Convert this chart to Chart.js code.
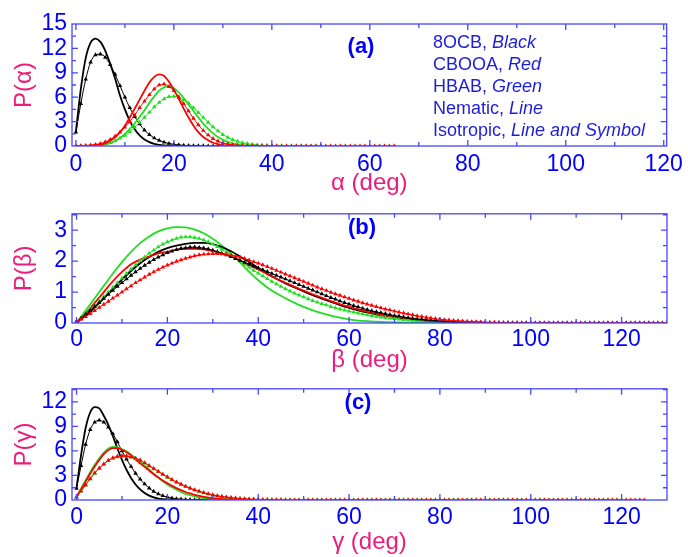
<!DOCTYPE html>
<html><head><meta charset="utf-8">
<script src="https://cdn.jsdelivr.net/npm/chart.js@4/dist/chart.umd.min.js"></script>
<style>
html,body{margin:0;padding:0;background:#fff;}
body{width:688px;height:557px;position:relative;overflow:hidden;}
.pane{position:absolute;left:0;width:688px;}
canvas{display:block;}
</style></head><body>
<div class="pane" style="top:0;height:195px"><canvas id="ca" width="688" height="195"></canvas></div>
<div class="pane" style="top:195px;height:177px"><canvas id="cb" width="688" height="177"></canvas></div>
<div class="pane" style="top:370px;height:187px"><canvas id="cc" width="688" height="187"></canvas></div>
<script>
// ---------- tick labels ----------
const xTicksA = [0, 20, 40, 60, 80, 100, 120];
const xTicksBC = [0, 20, 40, 60, 80, 100, 120];
const yTicksA = [0, 3, 6, 9, 12, 15];
const yTicksB = [0, 1, 2, 3];
const yTicksC = [0, 3, 6, 9, 12];

// ---------- text ----------
const panelLabels = ['(a)', '(b)', '(c)'];
const xTitles = ['\u03b1 (deg)', '\u03b2 (deg)', '\u03b3 (deg)'];
const yTitles = ['P(\u03b1)', 'P(\u03b2)', 'P(\u03b3)'];
const legendLines = [
  ['8OCB, ', 'Black'],
  ['CBOOA, ', 'Red'],
  ['HBAB, ', 'Green'],
  ['Nematic, ', 'Line'],
  ['Isotropic, ', 'Line and Symbol']
];

// ---------- panel (a): P(alpha), 1 deg sampling ----------
const aBlackLine = [1.8,7.0,10.8,12.7,13.2,12.8,11.7,10.1,8.3,6.2,4.5,3.1,2.05,1.3,0.8,0.48,0.27,0.14,0.07,0.03,0.01,0,0,0,0,0];
const aBlackSym = [1.7,5.2,8.2,10.3,11.2,11.3,10.9,10.0,8.8,7.4,6.0,4.7,3.6,2.7,1.95,1.4,0.98,0.68,0.46,0.31,0.2,0.13,0.08,0.05,0.03,0.02,0.01,0,0,0,0,0,0,0,0,0,0,0,0,0,0];
const aRedLine = [0,0,0.01,0.03,0.08,0.18,0.35,0.65,1.1,1.7,2.5,3.5,4.6,5.7,6.8,7.8,8.5,8.8,8.6,7.9,6.9,5.8,4.6,3.5,2.5,1.7,1.1,0.7,0.4,0.22,0.12,0.06,0.03,0.01,0,0,0,0,0,0,0];
const aRedSym = [0.02,0.03,0.06,0.1,0.18,0.3,0.5,0.8,1.2,1.7,2.3,3.0,3.8,4.7,5.5,6.3,7.0,7.5,7.6,7.3,6.8,6.0,5.2,4.3,3.4,2.6,1.9,1.35,0.9,0.6,0.38,0.24,0.14,0.08,0.05,0.03,0.02,0.01,0,0,0,0,0,0,0,0,0,0,0,0,0,0,0,0,0,0,0,0,0,0,0,0,0,0,0,0];
const aGreenLine = [0,0,0,0.01,0.03,0.08,0.18,0.35,0.62,1.0,1.5,2.1,2.8,3.6,4.4,5.3,6.1,6.8,7.2,7.35,7.1,6.6,5.9,5.1,4.3,3.5,2.75,2.1,1.55,1.1,0.75,0.5,0.32,0.2,0.12,0.07,0.04,0.02,0.01,0,0,0,0,0,0,0];
const aGreenSym = [0,0.01,0.02,0.05,0.1,0.17,0.27,0.42,0.65,0.95,1.3,1.75,2.3,2.9,3.5,4.15,4.8,5.35,5.8,6.05,6.1,6.0,5.7,5.25,4.7,4.1,3.5,2.9,2.35,1.85,1.4,1.05,0.78,0.56,0.4,0.28,0.19,0.12,0.08,0.05,0.03,0.02,0.01,0,0,0,0,0,0,0,0];

// ---------- panel (b): P(beta); lines 2 deg sampling, symbols 1 deg ----------
const bBlackLine = [0,0.25,0.5,0.8,1.1,1.4,1.68,1.93,2.13,2.3,2.42,2.5,2.56,2.59,2.59,2.55,2.45,2.32,2.15,1.97,1.78,1.6,1.43,1.28,1.15,1.02,0.9,0.79,0.68,0.58,0.49,0.41,0.34,0.28,0.23,0.19,0.15,0.12,0.09,0.06,0.04,0.03,0.02,0.015,0.01,0.005,0];
const bRedLine = [0,0.3,0.65,1.0,1.35,1.65,1.9,2.05,2.15,2.25,2.3,2.37,2.4,2.4,2.38,2.33,2.25,2.15,2.02,1.88,1.73,1.58,1.43,1.3,1.17,1.05,0.93,0.82,0.71,0.61,0.52,0.44,0.37,0.3,0.25,0.2,0.16,0.12,0.09,0.07,0.05,0.035,0.02,0.015,0.01,0.005,0];
const bGreenLine = [0,0.4,0.8,1.2,1.6,1.97,2.3,2.58,2.8,2.96,3.06,3.1,3.09,3.02,2.9,2.72,2.5,2.24,1.96,1.65,1.38,1.15,0.96,0.8,0.65,0.52,0.41,0.32,0.24,0.17,0.12,0.08,0.06,0.04,0.03,0.02,0.015,0.01,0.005,0];
const bBlackSym = [0.05,0.15,0.27,0.4,0.53,0.66,0.79,0.92,1.05,1.18,
  1.3,1.42,1.54,1.65,1.76,1.86,1.96,2.05,2.13,2.2,
  2.27,2.32,2.37,2.41,2.43,2.45,2.45,2.44,2.42,2.39,
  2.35,2.3,2.25,2.2,2.14,2.08,2.02,1.96,1.9,1.84,
  1.78,1.72,1.66,1.6,1.54,1.48,1.42,1.36,1.3,1.24,
  1.18,1.12,1.06,1.0,0.94,0.88,0.82,0.77,0.71,0.66,
  0.61,0.56,0.52,0.47,0.43,0.39,0.36,0.33,0.3,0.27,
  0.24,0.22,0.19,0.17,0.15,0.13,0.12,0.1,0.09,0.08,
  0.07,0.06,0.05,0.04,0.035,0.03,0.025,0.02,0.015,0.01,
  0.01,0,0,0,0,0,0,0,0,0,
  0,0,0,0,0,0,0,0,0,0,
  0,0,0,0,0,0,0,0,0,0,
  0,0,0,0,0,0,0,0,0,0,0];
const bRedSym = [0.05,0.12,0.2,0.3,0.4,0.5,0.6,0.7,0.8,0.9,
  1.0,1.1,1.2,1.3,1.39,1.48,1.57,1.65,1.73,1.8,
  1.87,1.93,1.99,2.04,2.09,2.13,2.17,2.2,2.22,2.23,
  2.24,2.24,2.23,2.21,2.19,2.16,2.12,2.08,2.03,1.98,
  1.93,1.88,1.82,1.76,1.7,1.64,1.58,1.52,1.46,1.4,
  1.34,1.28,1.22,1.16,1.1,1.05,0.99,0.94,0.89,0.84,
  0.79,0.74,0.7,0.65,0.61,0.57,0.53,0.49,0.45,0.42,
  0.38,0.35,0.32,0.29,0.26,0.23,0.21,0.18,0.16,0.14,
  0.12,0.105,0.09,0.08,0.07,0.06,0.05,0.04,0.035,0.03,
  0.025,0.02,0.02,0.015,0.01,0.01,0.005,0.005,0,0,
  0,0,0,0,0,0,0,0,0,0,
  0,0,0,0,0,0,0,0,0,0,
  0,0,0,0,0,0,0,0,0,0,0];
const bGreenSym = [0.05,0.16,0.28,0.42,0.56,0.7,0.85,1.0,1.15,1.3,
  1.45,1.6,1.74,1.88,2.01,2.13,2.25,2.36,2.46,2.55,
  2.62,2.68,2.73,2.77,2.78,2.78,2.76,2.73,2.68,2.62,
  2.55,2.47,2.38,2.29,2.2,2.1,2.0,1.9,1.8,1.7,
  1.61,1.52,1.43,1.34,1.26,1.18,1.1,1.03,0.96,0.9,
  0.84,0.78,0.72,0.67,0.62,0.58,0.53,0.49,0.45,0.41,
  0.38,0.35,0.32,0.29,0.26,0.24,0.21,0.19,0.17,0.155,
  0.14,0.12,0.11,0.095,0.085,0.075,0.065,0.055,0.045,0.04,
  0.035,0.03,0.025,0.02,0.015,0.01,0,0,0,0,
  0,0,0,0,0,0,0,0,0,0];

// ---------- panel (c): P(gamma), 1 deg sampling ----------
const cBlackLine = [1.5,5.5,8.8,10.7,11.35,11.2,10.3,9.2,7.8,6.3,4.9,3.7,2.7,1.9,1.3,0.85,0.53,0.32,0.18,0.1,0.05,0.02,0,0,0,0,0,0,0,0,0];
const cBlackSym = [1.4,4.2,6.8,8.6,9.5,9.75,9.5,8.9,8.1,7.1,6.0,5.0,4.1,3.25,2.55,1.95,1.45,1.05,0.75,0.52,0.35,0.23,0.15,0.1,0.06,0.04,0.02,0.01,0,0,0];
const cRedLine = [0.35,1.3,2.25,3.2,4.1,4.9,5.6,6.1,6.35,6.35,6.15,5.85,5.45,4.95,4.5,4.05,3.6,3.15,2.75,2.38,2.05,1.73,1.45,1.2,0.98,0.8,0.64,0.5,0.38,0.29,0.22,0.16,0.11,0.08,0.05,0.03,0.02,0.01,0,0,0];
const cGreenLine = [0.4,1.4,2.4,3.4,4.3,5.1,5.8,6.3,6.5,6.45,6.2,5.95,5.55,5.1,4.65,4.2,3.7,3.2,2.75,2.3,1.9,1.55,1.25,0.98,0.76,0.58,0.44,0.33,0.24,0.17,0.12,0.08,0.05,0.03,0.02,0.01,0,0,0,0,0];
const cRedSym = [0.35,1.1,1.85,2.6,3.3,3.9,4.4,4.85,5.15,5.33,
  5.4,5.38,5.28,5.1,4.88,4.55,4.2,3.85,3.5,3.15,
  2.82,2.5,2.2,1.93,1.68,1.45,1.25,1.07,0.9,0.76,
  0.63,0.52,0.43,0.35,0.28,0.23,0.18,0.14,0.11,0.09,
  0.07,0.05,0.04,0.03,0.02,0.02,0.01,0,0,0,
  0,0,0,0,0,0,0,0,0,0,
  0,0,0,0,0,0,0,0,0,0,
  0,0,0,0,0,0,0,0,0,0,
  0,0,0,0,0,0,0,0,0,0,
  0,0,0,0,0,0,0,0,0,0,
  0,0,0,0,0,0,0,0,0,0,
  0,0,0,0,0,0,0,0,0,0,
  0,0,0,0,0,0];
const cGreenSym = [0.35,1.08,1.82,2.55,3.25,3.85,4.35,4.8,5.1,5.28,
  5.35,5.33,5.23,5.05,4.83,4.5,4.15,3.8,3.45,3.1,
  2.77,2.45,2.15,1.88,1.63,1.41,1.21,1.03,0.87,0.73,
  0.6,0.5,0.41,0.33,0.27,0.22,0.17,0.13,0.1,0.08,
  0.06,0.05,0.04,0.03,0.02,0.01,0.01,0,0,0,
  0,0,0,0,0,0,0,0,0,0,
  0,0,0,0,0,0,0,0,0,0,
  0,0,0,0,0,0,0,0,0,0,
  0,0,0,0,0,0,0,0,0,0,
  0,0,0,0,0,0,0,0,0,0,
  0,0,0,0,0,0,0,0,0,0,
  0,0,0,0,0,0,0,0,0,0,0];

// ---------- styling ----------
const FONT = '"Liberation Sans", Arial, sans-serif';
const BLUE = '#0000ff';
const PINK = '#ec1c7c';
const FRAME = '#4646ff';
const TXT = '#1e1ed8';
const BLACK = '#000000', RED = '#ff0000', GREEN = '#1ee01e';

function series(vals, step, color, sym) {
  return {
    data: vals.map((v, i) => ({x: i * step, y: v})),
    borderColor: color,
    backgroundColor: color,
    borderWidth: sym ? 1 : 1.8,
    pointRadius: sym ? 2.6 : 0,
    pointStyle: 'triangle',
    pointBorderWidth: 0,
    pointHoverRadius: 0,
    cubicInterpolationMode: 'monotone',
    fill: false
  };
}

const framePlugin = {
  id: 'frame',
  afterDatasetsDraw(chart, args, o) {
    const {ctx, chartArea: a, scales: {x, y}} = chart;
    ctx.save();
    ctx.strokeStyle = FRAME;
    ctx.lineWidth = 1.3;
    ctx.beginPath();
    for (let i = 0; ; i++) {
      const v = i * o.xStep;
      if (v >= x.max) break;
      const p = x.getPixelForValue(v);
      const L = (i % o.xMajorEvery === 0) ? 6 : 4;
      ctx.moveTo(p, a.bottom); ctx.lineTo(p, a.bottom - L);
      ctx.moveTo(p, a.top); ctx.lineTo(p, a.top + L);
    }
    for (let i = 1; ; i++) {
      const v = i * o.yStep;
      if (v >= y.max - 1e-9) break;
      const p = y.getPixelForValue(v);
      const L = (i % o.yMajorEvery === 0) ? 6 : 4;
      ctx.moveTo(a.left, p); ctx.lineTo(a.left + L, p);
      ctx.moveTo(a.right, p); ctx.lineTo(a.right - L, p);
    }
    ctx.stroke();
    ctx.strokeRect(a.left, a.top, a.right - a.left, a.bottom - a.top);
    ctx.restore();
  }
};

const notesPlugin = {
  id: 'notes',
  afterDraw(chart, args, o) {
    const ctx = chart.ctx;
    ctx.save();
    ctx.fillStyle = BLUE;
    ctx.font = 'bold 22px ' + FONT;
    ctx.textAlign = 'center';
    ctx.textBaseline = 'middle';
    ctx.fillText(o.label, o.lx, o.ly);
    if (o.legend) {
      ctx.textAlign = 'left';
      ctx.fillStyle = TXT;
      o.legend.forEach((ln, k) => {
        const yy = o.legY + k * o.legDy;
        ctx.font = '18px ' + FONT;
        ctx.fillText(ln[0], o.legX, yy);
        const w = ctx.measureText(ln[0]).width;
        ctx.font = 'italic 18px ' + FONT;
        ctx.fillText(ln[1], o.legX + w, yy);
      });
    }
    ctx.restore();
  }
};

function makeChart(id, p) {
  return new Chart(document.getElementById(id), {
    type: 'line',
    data: {datasets: p.datasets},
    options: {
      responsive: false,
      animation: false,
      events: [],
      layout: {padding: {top: p.padTop, right: 21, left: 0, bottom: 0}},
      plugins: {
        legend: {display: false},
        tooltip: {enabled: false},
        frame: p.frame,
        notes: p.notes
      },
      scales: {
        x: {
          type: 'linear', min: p.xMin, max: p.xMax,
          afterBuildTicks: s => { s.ticks = p.xTicks.map(v => ({value: v})); },
          afterFit: s => { s.height = p.xH; },
          grid: {display: false, drawTicks: false},
          border: {display: false},
          ticks: {color: BLUE, font: {family: FONT, size: 23, lineHeight: 1.2}, padding: p.xPad, maxRotation: 0, autoSkip: false, callback: v => String(v)},
          title: {display: true, text: p.xTitle, color: PINK, font: {family: FONT, size: 24, lineHeight: 1}, padding: {top: 0, bottom: p.xTitlePad}}
        },
        y: {
          type: 'linear', min: 0, max: p.yMax,
          afterBuildTicks: s => { s.ticks = p.yTicks.map(v => ({value: v})); },
          afterFit: s => { s.width = 72; },
          grid: {display: false, drawTicks: false},
          border: {display: false},
          ticks: {color: BLUE, font: {family: FONT, size: 23, lineHeight: 1.2}, padding: 5, autoSkip: false, callback: v => String(v)},
          title: {display: true, text: p.yTitle, color: PINK, font: {family: FONT, size: 24, lineHeight: 1}, padding: {top: 12, bottom: 0}}
        }
      }
    },
    plugins: [framePlugin, notesPlugin]
  });
}

makeChart('ca', {
  datasets: [
    series(aRedSym, 1, RED, true), series(aRedLine, 1, RED, false),
    series(aGreenSym, 1, GREEN, true), series(aGreenLine, 1, GREEN, false),
    series(aBlackSym, 1, BLACK, true), series(aBlackLine, 1, BLACK, false)
  ],
  padTop: 24, xH: 49, xPad: 5, xTitlePad: 0,
  xMin: -0.8, xMax: 120.6, yMax: 15,
  xTicks: xTicksA, yTicks: yTicksA,
  xTitle: xTitles[0], yTitle: yTitles[0],
  frame: {xStep: 10, xMajorEvery: 2, yStep: 1.5, yMajorEvery: 2},
  notes: {label: panelLabels[0], lx: 361, ly: 47, legend: legendLines, legX: 433, legY: 43, legDy: 22.1}
});

makeChart('cb', {
  datasets: [
    series(bRedSym, 1, RED, true), series(bBlackSym, 1, BLACK, true),
    series(bGreenSym, 1, GREEN, true),
    series(bRedLine, 2, RED, false), series(bBlackLine, 2, BLACK, false),
    series(bGreenLine, 2, GREEN, false)
  ],
  padTop: 8, xH: 49, xPad: 3, xTitlePad: 0,
  xMin: -1, xMax: 130, yMax: 3.53,
  xTicks: xTicksBC, yTicks: yTicksB,
  xTitle: xTitles[1], yTitle: yTitles[1],
  frame: {xStep: 10, xMajorEvery: 2, yStep: 0.5, yMajorEvery: 2},
  notes: {label: panelLabels[1], lx: 362, ly: 33}
});

makeChart('cc', {
  datasets: [
    series(cRedSym, 1, RED, true), series(cGreenSym, 1, GREEN, true),
    series(cRedLine, 1, RED, false), series(cGreenLine, 1, GREEN, false),
    series(cBlackSym, 1, BLACK, true), series(cBlackLine, 1, BLACK, false)
  ],
  padTop: 10, xH: 57, xPad: 4, xTitlePad: 3,
  xMin: -1, xMax: 130, yMax: 13.6,
  xTicks: xTicksBC, yTicks: yTicksC,
  xTitle: xTitles[2], yTitle: yTitles[2],
  frame: {xStep: 10, xMajorEvery: 2, yStep: 1.5, yMajorEvery: 2},
  notes: {label: panelLabels[2], lx: 358, ly: 33}
});
</script>
</body></html>
